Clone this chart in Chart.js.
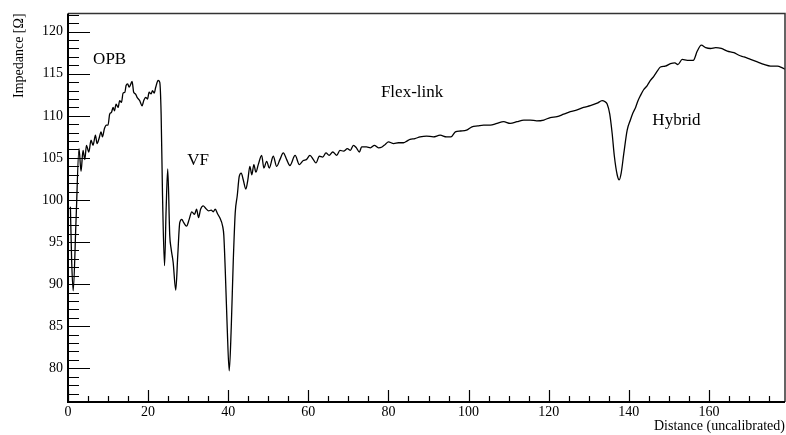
<!DOCTYPE html>
<html>
<head>
<meta charset="utf-8">
<script src="https://cdn.jsdelivr.net/npm/chart.js@4.4.1/dist/chart.umd.min.js"></script>
<style>
  html, body { margin: 0; padding: 0; background: #fff; }
  #wrap { width: 786px; height: 435px; }
</style>
</head>
<body>
<div id="wrap"><canvas id="tdrChart" width="786" height="435"></canvas></div>
<script>
// impedance trace
const distance = [
    0.6, 0.9, 1.3, 2.0, 2.75, 3.25, 3.75, 4.2, 4.6, 5.2, 5.75, 6.25, 6.85, 7.25, 7.75, 8.25, 8.6, 9.1, 9.6, 10.0,
    10.4, 10.85, 11.25, 11.6, 12.0, 12.5, 12.9, 13.35, 13.75, 14.2, 14.5, 14.9, 15.25, 15.7, 16.0, 16.4, 16.85, 17.25, 17.9, 18.5,
    18.9, 19.4, 19.85, 20.25, 20.75, 21.1, 21.5, 21.9, 22.5, 22.9, 23.25, 23.6, 24.1, 24.5, 24.9, 25.4, 25.75, 26.25, 26.9, 27.4,
    27.9, 28.4, 28.9, 29.6, 30.25, 30.9, 31.6, 32.1, 32.6, 33.1, 33.75, 34.4, 35.1, 35.75, 36.25, 36.75, 37.4, 37.9, 38.6, 38.9,
    39.25, 39.75, 40.25, 40.75, 41.25, 41.75, 42.25, 42.75, 43.25, 43.75, 44.4, 44.9, 45.4, 45.9, 46.4, 46.9, 47.5, 48.35, 48.9, 49.6,
    50.25, 51.25, 52.1, 52.9, 53.75, 54.6, 55.4, 56.7, 57.75, 58.75, 59.5, 60.4, 61.25, 61.9, 62.75, 63.6, 64.4, 65.2, 66.1, 67.1,
    67.9, 68.8, 69.75, 70.5, 71.25, 72.0, 72.75, 73.3, 74.5, 75.5, 76.5, 77.5, 78.4, 79.2, 80.0, 81.3, 82.5, 83.75, 84.6, 85.4,
    86.6, 87.9, 89.5, 91.2, 92.9, 94.5, 95.6, 96.7, 98.0, 99.5, 100.85, 102.3, 103.75, 105.4, 107.1, 108.75, 110.4, 112.1, 113.8, 115.4,
    117.0, 118.8, 120.4, 122.1, 123.75, 125.4, 127.1, 128.7, 130.4, 132.1, 133.35, 134.0, 134.6, 135.25, 135.85, 136.4, 137.1, 137.6, 138.1, 138.75,
    139.6, 140.4, 141.0, 141.7, 142.3, 142.9, 143.7, 144.6, 145.4, 146.25, 147.1, 147.9, 149.1, 150.4, 151.5, 152.25, 153.35, 154.6, 156.1, 157.1,
    158.1, 159.2, 160.4, 161.7, 163.1, 164.6, 166.25, 167.5, 168.75, 170.4, 172.1, 173.75, 175.4, 177.1, 178.35, 179.2
];
const impedance = [
    99.2, 93.0, 89.2, 97.5, 106.1, 103.4, 105.9, 104.8, 106.5, 105.7, 107.1, 106.5, 107.7, 106.7, 107.3, 108.1, 107.5, 108.5, 108.9, 108.9,
    110.2, 110.4, 111.0, 110.6, 111.4, 111.0, 111.8, 111.6, 112.7, 112.8, 113.6, 113.8, 113.4, 113.8, 114.1, 112.8, 112.6, 112.2, 111.8, 111.2,
    111.8, 112.2, 112.0, 112.8, 112.6, 113.0, 112.7, 113.4, 114.2, 114.0, 110.2, 100.5, 92.2, 98.9, 103.7, 95.8, 94.2, 92.6, 89.3, 93.4,
    97.3, 97.7, 97.3, 96.9, 97.7, 98.6, 98.3, 98.9, 97.9, 98.9, 99.3, 99.0, 98.7, 98.8, 98.6, 98.9, 98.3, 97.9, 96.9, 95.8,
    91.8, 84.8, 79.7, 84.8, 92.6, 98.5, 100.5, 102.8, 103.2, 102.4, 101.3, 102.4, 104.0, 103.0, 104.2, 103.3, 104.2, 105.3, 103.8, 104.6,
    103.8, 105.2, 104.0, 104.8, 105.6, 104.8, 104.1, 105.3, 104.2, 104.7, 104.8, 105.3, 104.8, 104.4, 105.2, 105.1, 105.6, 105.3, 105.7, 105.3,
    105.9, 105.8, 106.1, 105.9, 106.5, 106.2, 105.7, 106.3, 106.3, 106.2, 106.5, 106.2, 106.3, 106.6, 106.9, 106.7, 106.8, 106.8, 107.0, 107.2,
    107.3, 107.5, 107.6, 107.5, 107.7, 107.5, 107.5, 108.1, 108.2, 108.3, 108.7, 108.8, 108.9, 108.9, 109.1, 109.3, 109.1, 109.3, 109.5, 109.5,
    109.4, 109.5, 109.8, 109.9, 110.2, 110.5, 110.7, 111.0, 111.2, 111.5, 111.8, 111.7, 111.4, 110.2, 107.9, 105.2, 103.0, 102.4, 103.2, 105.5,
    108.3, 109.5, 110.3, 111.0, 111.8, 112.4, 113.1, 113.6, 114.2, 114.7, 115.3, 115.8, 115.9, 116.2, 116.3, 116.1, 116.7, 116.6, 116.6, 117.7,
    118.4, 118.1, 118.0, 118.1, 118.0, 117.7, 117.5, 117.2, 117.0, 116.7, 116.4, 116.1, 115.9, 115.9, 115.7, 115.5
];

const xTickValues = [0, 20, 40, 60, 80, 100, 120, 140, 160];
const yTickValues = [80, 85, 90, 95, 100, 105, 110, 115, 120];

const regionLabels = ['OPB', 'VF', 'Flex-link', 'Hybrid'];
const regionLabelX = [10.4, 32.5, 85.9, 151.9];
const regionLabelY = [116.7, 104.7, 112.8, 109.5];

const serif = '"Liberation Serif", "DejaVu Serif", serif';

// ROOT-style frame, inward ticks, titles and text labels
const rootFrame = {
    id: 'rootFrame',
    afterDraw(chart) {
        const ctx = chart.ctx;
        const area = chart.chartArea;
        const xs = chart.scales.x;
        const ys = chart.scales.y;
        ctx.save();

        // top / right frame
        ctx.strokeStyle = '#333';
        ctx.lineWidth = 1.5;
        ctx.beginPath();
        ctx.moveTo(area.left, area.top);
        ctx.lineTo(area.right, area.top);
        ctx.lineTo(area.right, area.bottom);
        ctx.stroke();

        // ticks
        ctx.strokeStyle = '#000';
        ctx.lineWidth = 1.2;
        ctx.beginPath();
        for (let v = 0; v <= xs.max; v += 5) {
            const px = Math.round(xs.getPixelForValue(v)) + 0.5;
            const len = (v % 20 === 0) ? 12 : 6;
            ctx.moveTo(px, area.bottom);
            ctx.lineTo(px, area.bottom - len);
        }
        for (let v = Math.ceil(ys.min); v <= ys.max; v += 1) {
            const py = Math.round(ys.getPixelForValue(v)) + 0.5;
            const len = (v % 5 === 0) ? 22 : 11;
            ctx.moveTo(area.left, py);
            ctx.lineTo(area.left + len, py);
        }
        ctx.stroke();

        // left / bottom axis lines
        ctx.lineWidth = 2;
        ctx.beginPath();
        ctx.moveTo(area.left, area.top);
        ctx.lineTo(area.left, area.bottom);
        ctx.lineTo(area.right, area.bottom);
        ctx.stroke();

        // region labels
        ctx.fillStyle = '#000';
        ctx.font = '17px ' + serif;
        ctx.textAlign = 'center';
        ctx.textBaseline = 'middle';
        regionLabels.forEach((t, i) => {
            ctx.fillText(t, xs.getPixelForValue(regionLabelX[i]), ys.getPixelForValue(regionLabelY[i]));
        });

        // axis titles
        ctx.font = '14px ' + serif;
        ctx.textAlign = 'right';
        ctx.fillText('Distance (uncalibrated)', area.right, 426);

        ctx.translate(19, area.top);
        ctx.rotate(-Math.PI / 2);
        ctx.textAlign = 'right';
        ctx.fillText('Impedance [Ω]', 0, 0);
        ctx.restore();
    }
};

const tdrChartCtx = document.getElementById('tdrChart').getContext('2d');
const tdrChart = new Chart(tdrChartCtx, {
    type: 'scatter',
    data: {
        datasets: [{
            data: distance.map((d, i) => ({ x: d, y: impedance[i] })),
            showLine: true,
            borderColor: '#000',
            borderWidth: 1.3,
            pointRadius: 0,
            cubicInterpolationMode: 'monotone',
            fill: false
        }]
    },
    options: {
        responsive: false,
        animation: false,
        devicePixelRatio: 1,
        layout: {
            padding: { top: 8, right: 1, left: 0, bottom: 0 }
        },
        plugins: {
            legend: { display: false },
            tooltip: { enabled: false }
        },
        scales: {
            x: {
                type: 'linear',
                min: 0,
                max: 179,
                grid: { display: false, drawTicks: false },
                border: { display: false },
                ticks: {
                    color: '#000',
                    padding: 2,
                    maxRotation: 0,
                    font: { family: serif, size: 14 }
                },
                afterBuildTicks: (scale) => {
                    scale.ticks = xTickValues.map(v => ({ value: v }));
                },
                afterFit: (scale) => { scale.height = 33; }
            },
            y: {
                type: 'linear',
                min: 76,
                max: 122.17,
                grid: { display: false, drawTicks: false },
                border: { display: false },
                ticks: {
                    color: '#000',
                    padding: 5,
                    font: { family: serif, size: 14 }
                },
                afterBuildTicks: (scale) => {
                    scale.ticks = yTickValues.map(v => ({ value: v }));
                },
                afterFit: (scale) => { scale.width = 68; }
            }
        }
    },
    plugins: [rootFrame]
});
</script>
</body>
</html>
